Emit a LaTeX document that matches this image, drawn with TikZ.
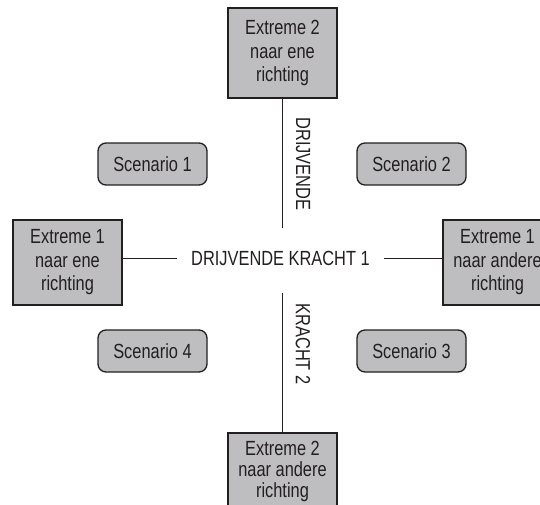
\documentclass[tikz,border=0pt]{standalone}
\usepackage{fontspec}
\setmainfont{Liberation Sans}[FakeStretch=0.8]
\definecolor{boxgray}{RGB}{190,190,192}
\definecolor{inkgray}{RGB}{35,31,32}
\begin{document}
\begin{tikzpicture}[x=1pt,y=-1pt,
  every node/.style={text=inkgray,font=\fontsize{20.5}{23.5}\selectfont},
  extremebox/.style={draw=inkgray,line width=1.3pt,fill=boxgray,align=center,
    minimum width=109pt,inner sep=0pt},
  scenbox/.style={draw=inkgray,line width=1.3pt,fill=boxgray,rounded corners=8pt,
    minimum width=109pt,minimum height=42pt,inner sep=0pt},
  axisline/.style={draw=inkgray,line width=1pt}]
\useasboundingbox (0,0) rectangle (540,504);
\clip (0,0) rectangle (540,504);
% extreme boxes
\node[extremebox,minimum height=90pt] (top) at (282.5,53) {Extreme 2\\naar ene\\richting};
\node[extremebox,minimum height=85pt] (left) at (67.5,262.5) {Extreme 1\\naar ene\\richting};
\node[extremebox,minimum height=85pt] (right) at (497.5,262.5) {Extreme 1\\naar andere\\richting};
\node[extremebox,minimum height=76pt,font=\fontsize{20.5}{21}\selectfont] (bottom) at (282.5,471) {Extreme 2\\naar andere\\richting};
% scenarios
\node[scenbox] (s1) at (152.5,164) {Scenario 1};
\node[scenbox] (s2) at (411.5,164) {Scenario 2};
\node[scenbox] (s3) at (411.5,351) {Scenario 3};
\node[scenbox] (s4) at (152.5,351) {Scenario 4};
% axis labels
\node[inner xsep=14pt,inner ysep=2pt] (mid) at (280.5,258) {DRIJVENDE KRACHT 1};
\node[rotate=-90] (vtop) at (303,164) {DRIJVENDE};
\node[rotate=-90] (vbot) at (303,344) {KRACHT 2};
% connectors
\coordinate (topend) at (282.5,228);
\coordinate (botstart) at (282.5,293);
\draw[axisline] (left.east |- mid.west) -- (mid.west);
\draw[axisline] (mid.east) -- (right.west |- mid.east);
\draw[axisline] (top.south) -- (topend);
\draw[axisline] (botstart) -- (bottom.north);
\end{tikzpicture}
\end{document}
